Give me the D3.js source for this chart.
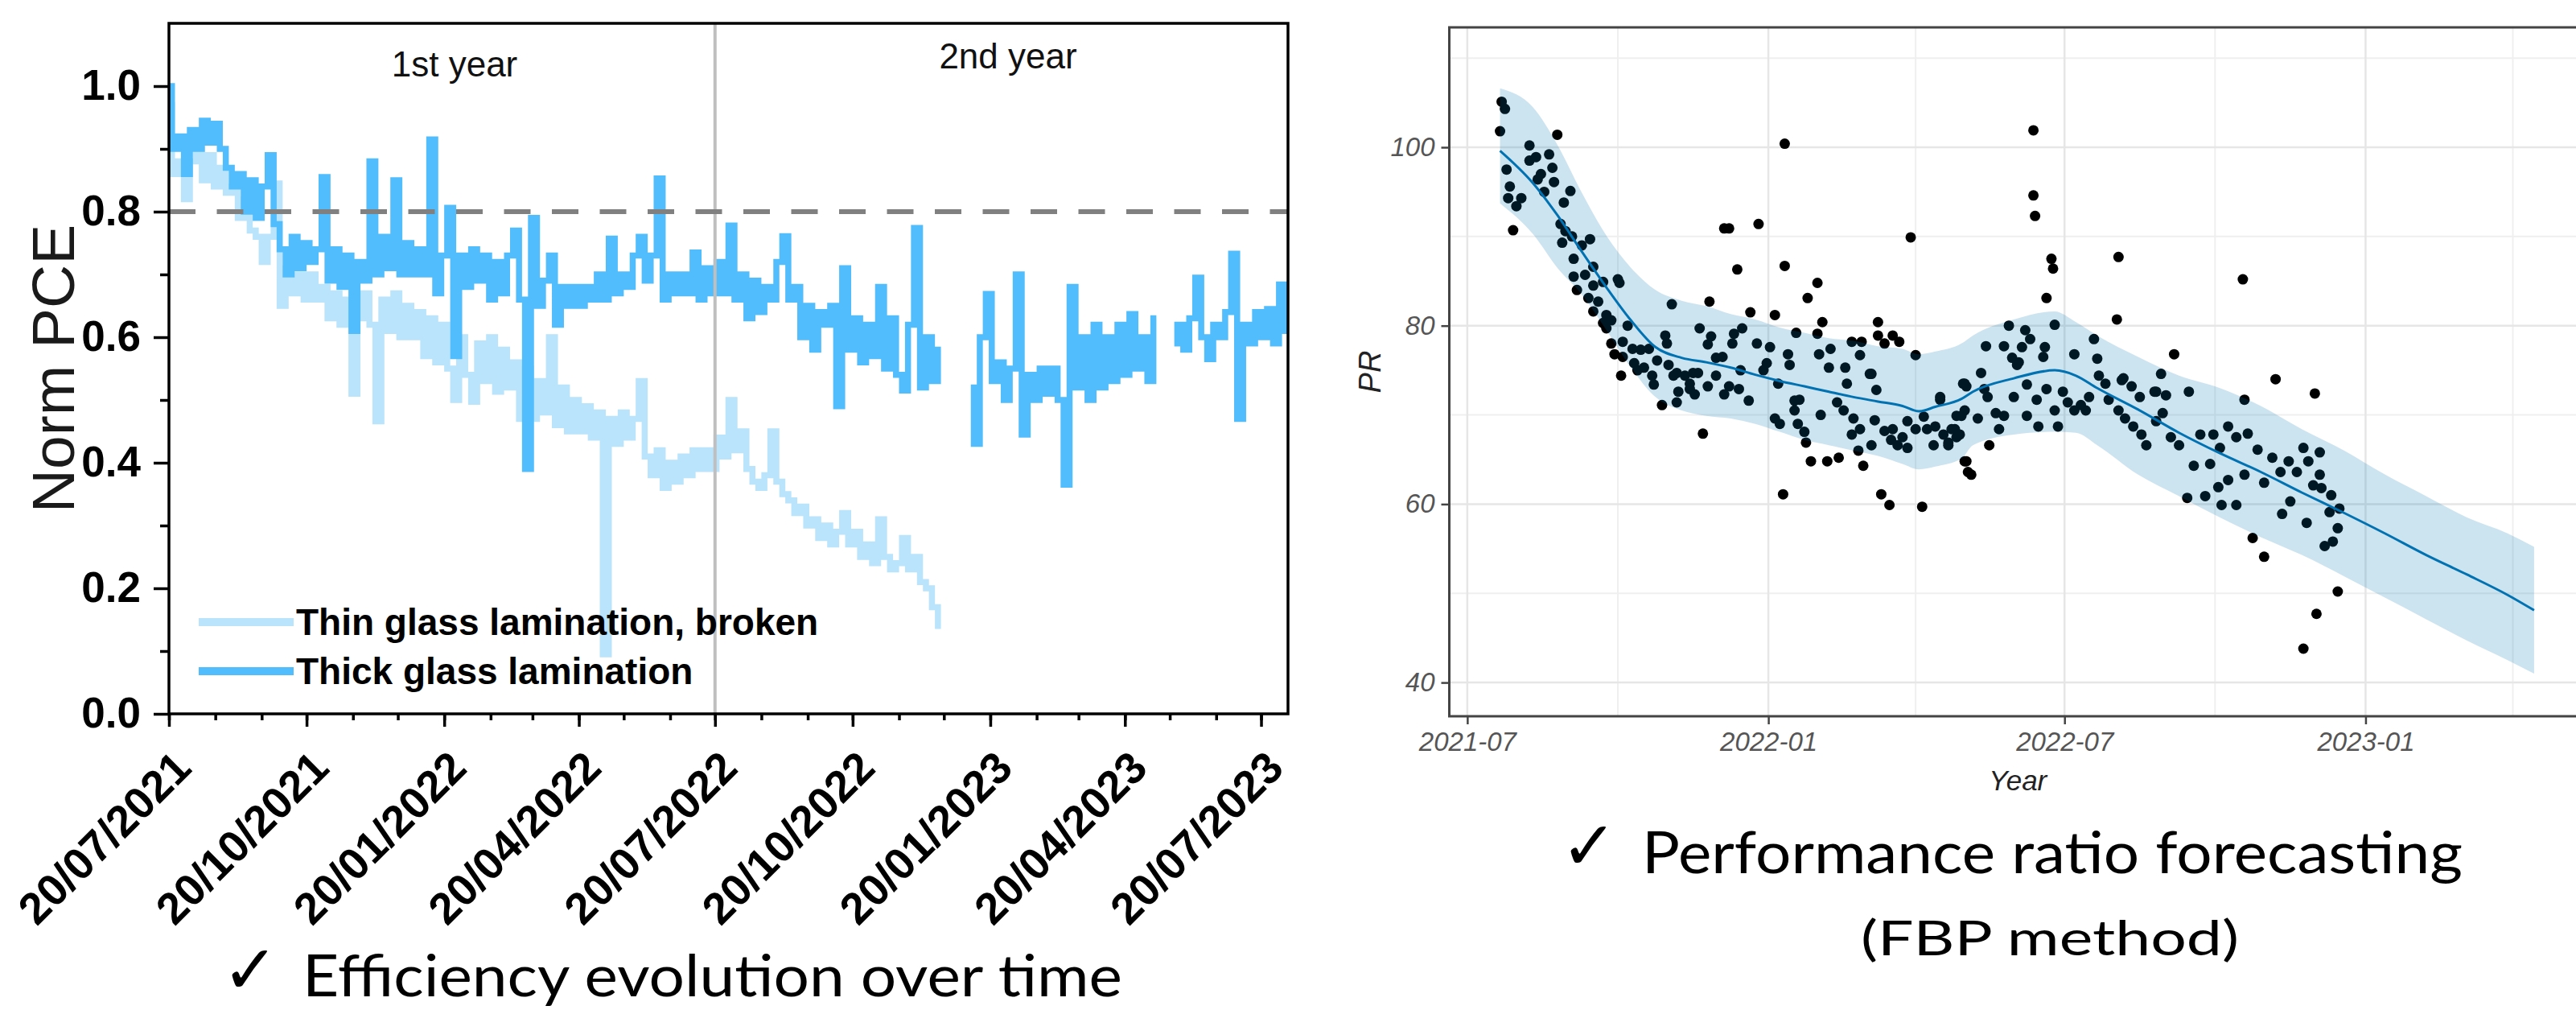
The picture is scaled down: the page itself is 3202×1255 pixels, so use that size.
<!DOCTYPE html>
<html>
<head>
<meta charset="utf-8">
<script src="https://d3js.org/d3.v7.min.js"></script>
<style>
  body { margin: 0; background: #fff; }
  svg { display: block; font-family: "Liberation Sans", Arial, sans-serif; }
</style>
</head>
<body>
<svg width="3202" height="1255"></svg>
<script>
// ---------------- left panel data ----------------
// normalised PCE, one reading every 4 days starting 20/07/2021 (null = no data)
const pceStart = "2021-07-20";
const pceStepDays = 4;
const pceEndDay = 748;
const thinPCE = [
  0.97,0.86,0.88,0.82,0.88,0.90,0.85,0.89,0.84,0.87,
  0.83,0.84,0.79,0.82,0.77,0.76,0.72,0.76,0.845,0.65,
  0.71,0.67,0.70,0.66,0.70,0.66,0.68,0.63,0.67,0.62,
  0.66,0.51,0.63,0.67,0.62,0.466,0.66,0.61,0.67,0.60,
  0.65,0.60,0.64,0.57,0.63,0.56,0.62,0.55,0.50,0.60,
  0.54,0.497,0.59,0.53,0.60,0.513,0.58,0.52,0.56,0.47,
  0.55,0.47,0.53,0.48,0.60,0.46,0.52,0.45,0.50,0.45,
  0.49,0.44,0.48,0.095,0.47,0.43,0.48,0.44,0.47,0.53,
  0.41,0.38,0.42,0.36,0.40,0.37,0.41,0.38,0.42,0.39,
  0.42,0.39,0.44,0.41,0.50,0.42,0.45,0.39,0.37,0.36,
  0.38,0.45,0.37,0.35,0.34,0.32,0.33,0.30,0.31,0.28,
  0.30,0.27,0.29,0.32,0.27,0.29,0.25,0.27,0.24,0.31,
  0.25,0.23,0.24,0.28,0.23,0.25,0.21,0.20,0.17,0.14
];
const thickPCE = [
  1.00,0.90,0.92,0.86,0.93,0.90,0.945,0.91,0.94,0.90,
  0.87,0.84,0.86,0.80,0.85,0.79,0.84,0.89,0.78,0.74,
  0.70,0.76,0.71,0.75,0.72,0.74,0.855,0.69,0.74,0.68,
  0.73,0.61,0.72,0.69,0.88,0.70,0.76,0.71,0.85,0.70,
  0.75,0.70,0.74,0.70,0.915,0.67,0.73,0.806,0.57,0.73,
  0.68,0.74,0.69,0.73,0.66,0.72,0.67,0.73,0.77,0.66,
  0.39,0.79,0.65,0.69,0.73,0.62,0.68,0.65,0.68,0.65,
  0.68,0.66,0.70,0.66,0.757,0.67,0.70,0.68,0.73,0.76,
  0.69,0.73,0.853,0.66,0.70,0.67,0.70,0.67,0.735,0.66,
  0.71,0.67,0.72,0.67,0.778,0.66,0.70,0.63,0.69,0.64,
  0.68,0.66,0.72,0.761,0.66,0.68,0.60,0.65,0.58,0.64,
  0.62,0.65,0.49,0.71,0.58,0.63,0.56,0.62,0.57,0.68,
  0.55,0.63,0.54,0.515,0.62,0.774,0.52,0.60,0.53,0.58,
  null,null,null,null,
  0.52,0.43,0.60,0.669,0.53,0.56,0.50,0.55,0.70,0.445,
  0.54,0.50,0.55,0.51,0.55,0.50,0.365,0.68,0.52,0.60,
  0.50,0.62,0.52,0.60,0.53,0.62,0.54,0.637,0.55,0.60,
  0.53,0.63,
  null,null,
  0.59,0.62,0.58,0.63,0.695,0.60,0.565,0.62,0.60,0.64,
  0.733,0.47,0.62,0.59,0.64,0.60,0.645,0.59,0.684,0.61
];
const pceSeriesNames = ["Thin glass lamination, broken", "Thick glass lamination"];
const pceTickLabels = ["20/07/2021","20/10/2021","20/01/2022","20/04/2022","20/07/2022",
                       "20/10/2022","20/01/2023","20/04/2023","20/07/2023"];
const pceYTicks = [0.0, 0.2, 0.4, 0.6, 0.8, 1.0];
const pceYMinor = [0.1, 0.3, 0.5, 0.7, 0.9];
const pceThreshold = 0.8;
const yearSplit = "20/07/2022";
const yearLabels = ["1st year", "2nd year"];

// ---------------- right panel data ----------------
// observed PR, days counted from 2021-07-01
const prStart = "2021-07-01";
const prObsDay = [
  21,23,20,55,38,24,38,42,50,52, 45,43,53,63,26,25,33,30,47,59,
  28,57,60,64,58,70,75,65,77,65, 72,67,83,92,93,77,74,80,77,85,
  83,88,85,98,88,95,90,101,106,111, 95,102,108,116,121,122,125,94,113,123,
  114,128,133,136,141,142,148,149,147,152, 157,160,165,163,168,162,156,173,178,177,
  185,188,194,194,201,196,208,214,217,214, 215,222,235,241,240,251,251,255,260,264,
  271,274,221,231,246,304,
  104,119,126,129,128,136,139,138,144,147, 152,157,160,166,167,172,181,183,188,191,
  193,190,197,200,200,203,202,206,207,210, 216,220,227,226,230,232,236,235,239,240,
  242,247,249,247,250,253,258,255,259,263, 260,269,266,269,274,278,279,281,285,286,
  289,291,294,296,299,303,304,306,304,301,
  289,294,298,302,299,305,308,305,312,314, 318,319,323,325,328,334,337,342,348,349,
  354,359,361,364,367,371,375,380,378,386, 390,392,398,401,406,402,407,411,412,415,
  420,424,421,425,427,430,435,440,441,444, 448,451,454,456,460,459,461,465,465,470,
  470,475,475,477,480,483,487,487,492,494, 497,498,502,503,507,511,511,513,514,518,
  519,521,521,522,517,524,528,529,532,532, 533,527,
  346,346,347,357,358,398,474,354,397,359, 331,341,344,383,432,317,328,339,353,371,
  385,333,336,352,400,421,342,316
];
const prObsValue = [
  105.1,104.3,101.8,101.4,100.2,97.5,98.5,98.9,99.2,97.7, 97.0,96.4,96.1,95.1,95.6,94.3,94.3,93.4,95.0,93.8,
  90.7,91.4,90.6,90.0,89.3,89.0,89.7,87.5,86.6,85.5, 85.7,84.0,84.9,85.2,84.8,84.5,83.1,82.7,81.6,81.2,
  80.3,80.6,79.7,80.0,78.0,78.2,76.8,77.4,77.3,77.4, 76.5,75.8,75.3,76.1,78.9,78.0,82.4,74.4,74.4,75.6,
  73.4,74.7,74.4,73.5,74.7,79.7,82.7,78.8,77.9,76.4, 90.9,90.9,86.3,79.1,79.7,78.0,76.5,81.5,91.4,78.0,
  77.6,81.2,100.4,86.7,79.2,76.8,83.1,84.8,80.4,79.1, 76.8,77.4,78.2,78.2,76.7,80.4,78.9,78.0,78.9,78.2,
  89.9,76.7,75.3,75.3,74.6,73.5,
  75.0,71.1,74.4,72.6,71.4,72.9,72.3,74.7,67.9,73.2, 74.4,72.3,73.2,72.9,75.0,71.6,75.0,75.8,69.6,69.0,
  61.1,73.5,75.6,71.6,70.5,71.7,69.0,68.1,66.9,64.8, 70.0,64.8,65.2,71.4,70.5,73.5,69.6,67.8,66.0,68.4,
  64.3,74.6,69.4,66.6,72.8,61.1,59.9,68.2,67.2,66.6, 68.4,69.3,67.5,66.3,68.4,59.7,69.8,68.4,66.6,68.7,
  71.7,67.8,66.9,68.4,69.9,73.5,64.8,63.6,70.5,67.8,
  72.0,66.6,68.4,69.9,67.5,64.8,63.3,73.2,69.6,74.7, 72.0,66.6,70.2,68.4,69.9,72.0,75.9,69.9,71.7,68.7,
  72.9,70.5,68.7,72.6,71.4,70.5,71.1,72.0,70.5,74.4, 73.5,71.7,70.5,74.1,73.2,69.6,68.7,72.0,67.8,66.6,
  72.6,74.6,69.3,70.2,72.2,67.5,66.6,60.7,72.6,64.3, 67.8,60.9,64.5,67.8,66.3,61.9,59.9,68.7,62.7,59.9,
  67.5,71.7,63.3,67.9,56.2,66.1,62.4,54.1,65.2,74.0, 63.6,58.9,64.8,60.3,63.6,66.3,43.8,57.9,64.8,72.4,
  47.7,65.8,63.3,61.8,62.1,55.3,61.0,55.8,57.3,50.2, 59.5,59.1,
  101.9,94.6,92.3,87.5,86.4,87.7,85.2,83.1,80.7,80.1, 80.0,79.5,78.5,78.5,76.8,77.7,77.7,77.6,77.6,76.8,
  76.3,76.4,75.6,76.5,73.9,72.6,73.4,72.9
];
// forecast (yhat) with uncertainty interval
const fcDay   = [20,40,55,70,85,100,115,131,146,161,176,191,206,221,236,251,266,276,286,302,
                 309,334,359,372,385,410,435,460,485,510,536,561,586,611,636,652];
const fcYhat  = [99.6,96.0,92.4,88.3,84.3,80.6,77.6,76.4,75.9,75.3,74.5,73.8,73.2,72.6,72.0,71.5,71.0,70.4,70.9,71.8,
                 72.6,74.1,75.0,74.4,73.0,70.6,68.0,65.7,63.6,61.3,59.0,56.7,54.3,52.1,49.8,48.1];
const fcUpper = [106.6,104.5,100.3,94.9,90.1,86.5,84.0,82.8,82.2,81.3,80.7,79.8,79.2,78.6,78.3,77.7,77.4,76.8,77.1,78.0,
                 78.9,80.7,81.6,80.4,78.9,76.5,74.4,73.0,71.0,68.4,66.0,63.3,60.9,58.5,56.7,55.2];
const fcLower = [93.7,90.3,86.5,83.5,79.5,75.3,72.0,70.5,69.9,69.6,69.0,68.1,67.2,66.6,66.0,65.4,64.5,63.9,64.2,65.1,
                 66.6,67.8,68.1,68.0,66.6,63.3,60.9,58.5,56.3,54.3,51.9,49.5,47.1,44.7,42.5,41.0];
const prXTicks = ["2021-07","2022-01","2022-07","2023-01"];
const prXMinor = ["2021-10","2022-04","2022-10","2023-04"];
const prYTicks = [40, 60, 80, 100];
const prYMinor = [50, 70, 90, 110];

const captionLeft = "Efficiency evolution over time";
const captionRight = ["Performance ratio forecasting", "(FBP method)"];

// ---------------------------------------------------
const svg = d3.select("svg");
const parseDay = d3.timeParse("%Y-%m-%d");
const parseDMY = d3.timeParse("%d/%m/%Y");
const parseYM = d3.timeParse("%Y-%m");
const thinColor = "#b9e4fb", thickColor = "#52bdfd";

// ======== left: efficiency evolution ========
const L = {left: 210, right: 1601, top: 29, bottom: 887};
const pceT0 = parseDay(pceStart);
const xL = d3.scaleTime().domain([pceT0, d3.timeDay.offset(pceT0, pceEndDay)]).range([L.left, L.right]);
const yL = d3.scaleLinear().domain([0, 1.1]).range([L.bottom, L.top]);

const toPts = vals => vals.map((v, i) => ({t: d3.timeDay.offset(pceT0, i * pceStepDays), v: v}));
// logger data is stepped, so draw as steps
const pceLine = d3.line().curve(d3.curveStep).defined(d => d.v != null).x(d => xL(d.t)).y(d => yL(d.v));

const gL = svg.append("g");
gL.append("path").datum(toPts(thinPCE)).attr("d", pceLine)
  .attr("fill", "none").attr("stroke", thinColor).attr("stroke-width", 7.5).attr("stroke-linejoin", "miter");
gL.append("path").datum(toPts(thickPCE)).attr("d", pceLine)
  .attr("fill", "none").attr("stroke", thickColor).attr("stroke-width", 7.5).attr("stroke-linejoin", "miter");

// year divider and 80 % threshold
gL.append("line")
  .attr("x1", xL(parseDMY(yearSplit))).attr("x2", xL(parseDMY(yearSplit)))
  .attr("y1", L.top).attr("y2", L.bottom)
  .attr("stroke", "#bfbfbf").attr("stroke-width", 4);
gL.append("line")
  .attr("x1", L.left).attr("x2", L.right).attr("y1", yL(pceThreshold)).attr("y2", yL(pceThreshold))
  .attr("stroke", "#808080").attr("stroke-width", 6).attr("stroke-dasharray", "33,26.5");

// axes
const styleAxis = (g, size, weight) => {
  g.select(".domain").remove();
  g.attr("font-family", null).attr("font-size", size);
  g.selectAll("line").attr("stroke", "#000").attr("stroke-width", 3.5);
  g.selectAll("text").attr("fill", "#000").attr("font-weight", weight);
};
gL.append("g").attr("transform", `translate(${L.left},0)`)
  .call(d3.axisLeft(yL).tickValues(pceYTicks).tickSize(19).tickPadding(16).tickFormat(d3.format(".1f")))
  .call(g => styleAxis(g, 53, "bold"));
gL.append("g").attr("transform", `translate(${L.left},0)`)
  .call(d3.axisLeft(yL).tickValues(pceYMinor).tickSize(11).tickFormat(""))
  .call(g => styleAxis(g, 10, "normal"));

const pceTickDates = pceTickLabels.map(parseDMY);
const pceMinorDates = d3.range(0, 25).map(m => new Date(2021, 6 + m, 20));
gL.append("g").attr("transform", `translate(0,${L.bottom})`)
  .call(d3.axisBottom(xL).tickValues(pceMinorDates).tickSize(8).tickFormat(""))
  .call(g => styleAxis(g, 10, "normal"));
gL.append("g").attr("transform", `translate(0,${L.bottom})`)
  .call(d3.axisBottom(xL).tickValues(pceTickDates).tickSize(16).tickFormat(d3.timeFormat("%d/%m/%Y")))
  .call(g => styleAxis(g, 55, "bold"))
  .call(g => g.selectAll("text")
    .attr("x", 0).attr("y", 0).attr("dy", 0).attr("text-anchor", "end")
    .attr("transform", "translate(30,70) rotate(-45)"));

gL.append("rect").attr("x", L.left).attr("y", L.top)
  .attr("width", L.right - L.left).attr("height", L.bottom - L.top)
  .attr("fill", "none").attr("stroke", "#000").attr("stroke-width", 3.5);

gL.append("text").attr("transform", `translate(92,${(L.top + L.bottom) / 2}) rotate(-90)`)
  .attr("text-anchor", "middle").attr("font-size", 75).attr("fill", "#1a1a1a").text("Norm PCE");
gL.append("text").attr("x", 565).attr("y", 95).attr("text-anchor", "middle")
  .attr("font-size", 44).attr("fill", "#111").text(yearLabels[0]);
gL.append("text").attr("x", 1253).attr("y", 85).attr("text-anchor", "middle")
  .attr("font-size", 44).attr("fill", "#111").text(yearLabels[1]);

// legend
[thinColor, thickColor].forEach((c, i) => {
  const ly = 773 + i * 61;
  gL.append("line").attr("x1", 247).attr("x2", 365).attr("y1", ly).attr("y2", ly)
    .attr("stroke", c).attr("stroke-width", 10);
  gL.append("text").attr("x", 368).attr("y", ly + 16).attr("font-size", 46)
    .attr("font-weight", "bold").attr("fill", "#000").text(pceSeriesNames[i]);
});

// ======== right: PR forecasting ========
const R = {left: 1801.5, right: 3215, top: 34, bottom: 890};
const prT0 = parseDay(prStart);
const xR = d3.scaleTime().domain([parseDay("2021-06-20"), parseDay("2023-05-16")]).range([R.left, R.right]);
const yR = d3.scaleLinear().domain([36.22, 113.44]).range([R.bottom, R.top]);
const gR = svg.append("g");

// gridlines
prYMinor.forEach(v => gR.append("line").attr("x1", R.left).attr("x2", R.right)
  .attr("y1", yR(v)).attr("y2", yR(v)).attr("stroke", "#efefef").attr("stroke-width", 2));
prXMinor.forEach(s => gR.append("line").attr("x1", xR(parseYM(s))).attr("x2", xR(parseYM(s)))
  .attr("y1", R.top).attr("y2", R.bottom).attr("stroke", "#efefef").attr("stroke-width", 2));
prYTicks.forEach(v => gR.append("line").attr("x1", R.left).attr("x2", R.right)
  .attr("y1", yR(v)).attr("y2", yR(v)).attr("stroke", "#e6e6e6").attr("stroke-width", 2.5));
prXTicks.forEach(s => gR.append("line").attr("x1", xR(parseYM(s))).attr("x2", xR(parseYM(s)))
  .attr("y1", R.top).attr("y2", R.bottom).attr("stroke", "#e6e6e6").attr("stroke-width", 2.5));

// observations, forecast line, interval ribbon (ribbon drawn last, translucent)
const obs = prObsDay.map((d, i) => ({t: d3.timeDay.offset(prT0, d), v: prObsValue[i]}));
gR.append("g").selectAll("circle").data(obs).join("circle")
  .attr("cx", d => xR(d.t)).attr("cy", d => yR(d.v)).attr("r", 6.5).attr("fill", "#000");

const fc = fcDay.map((d, i) => ({t: d3.timeDay.offset(prT0, d), y: fcYhat[i], lo: fcLower[i], hi: fcUpper[i]}));
gR.append("path").datum(fc)
  .attr("d", d3.line().curve(d3.curveMonotoneX).x(d => xR(d.t)).y(d => yR(d.y)))
  .attr("fill", "none").attr("stroke", "#0072B2").attr("stroke-width", 3);
gR.append("path").datum(fc)
  .attr("d", d3.area().curve(d3.curveMonotoneX).x(d => xR(d.t)).y0(d => yR(d.lo)).y1(d => yR(d.hi)))
  .attr("fill", "#0072B2").attr("fill-opacity", 0.2);

// axes
const styleR = g => {
  g.select(".domain").remove();
  g.attr("font-family", null).attr("font-size", 33);
  g.selectAll("line").attr("stroke", "#444").attr("stroke-width", 2.5);
  g.selectAll("text").attr("fill", "#555").attr("font-style", "italic");
};
gR.append("g").attr("transform", `translate(${R.left},0)`)
  .call(d3.axisLeft(yR).tickValues(prYTicks).tickSize(10).tickPadding(8))
  .call(styleR);
gR.append("g").attr("transform", `translate(0,${R.bottom})`)
  .call(d3.axisBottom(xR).tickValues(prXTicks.map(parseYM)).tickSize(10).tickPadding(10).tickFormat(d3.timeFormat("%Y-%m")))
  .call(styleR);
gR.append("rect").attr("x", R.left).attr("y", R.top)
  .attr("width", R.right - R.left).attr("height", R.bottom - R.top)
  .attr("fill", "none").attr("stroke", "#444").attr("stroke-width", 3);

gR.append("text").attr("x", (R.left + R.right) / 2).attr("y", 982).attr("text-anchor", "middle")
  .attr("font-size", 35).attr("font-style", "italic").attr("fill", "#222").text("Year");
gR.append("text").attr("transform", `translate(1716,${(R.top + R.bottom) / 2}) rotate(-90)`)
  .attr("text-anchor", "middle").attr("font-size", 38).attr("font-style", "italic").attr("fill", "#222").text("PR");

// ======== captions ========
const cap = svg.append("g").attr("fill", "#000");
const check = (x, y) => cap.append("text").attr("x", x).attr("y", y)
  .attr("font-family", "DejaVu Sans").attr("font-size", 84).text("\u2713");
const capText = (x, y, size, len, str) => cap.append("text").attr("x", x).attr("y", y)
  .attr("font-family", "Lato, 'Open Sans', sans-serif").attr("font-size", size)
  .attr("textLength", len).attr("lengthAdjust", "spacingAndGlyphs").text(str);
check(276, 1234);
capText(376, 1238, 72, 1019, captionLeft);
check(1940, 1080);
capText(2041, 1085, 72, 1020, captionRight[0]);
capText(2313, 1187, 60, 470, captionRight[1]);
</script>
</body>
</html>
